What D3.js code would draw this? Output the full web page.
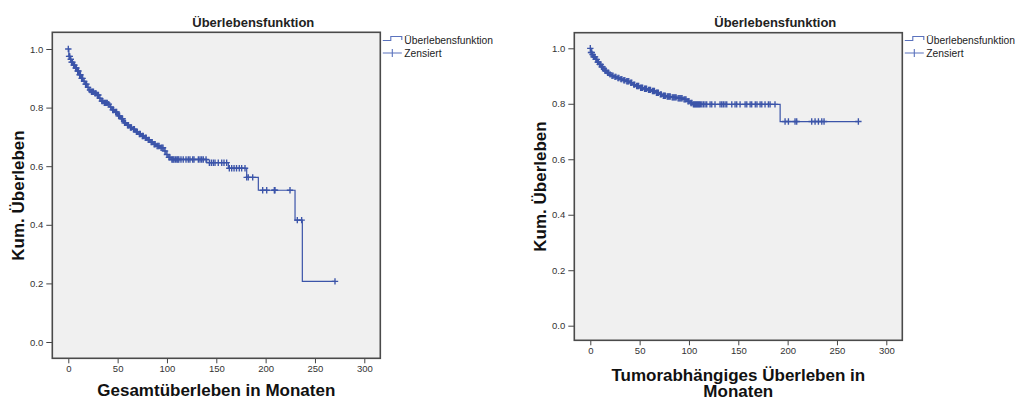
<!DOCTYPE html>
<html>
<head>
<meta charset="utf-8">
<script src="https://cdn.jsdelivr.net/npm/d3@7"></script>
<style>
  html, body { margin: 0; padding: 0; background: #ffffff; }
  svg { display: block; }
</style>
</head>
<body>
<svg id="chart" width="1016" height="399"></svg>
<script>
// ---------------- DATA ----------------
const chartTitle = "Überlebensfunktion";
const yAxisTitle = "Kum. Überleben";
const legendLabels = ["Überlebensfunktion", "Zensiert"];
const xTickValues = [0, 50, 100, 150, 200, 250, 300];
const yTickValues = [0.0, 0.2, 0.4, 0.6, 0.8, 1.0];

// Left panel: overall survival (Gesamtüberleben)
const osXTitle = ["Gesamtüberleben in Monaten"];
const osStepTimes = [0, 0.6, 2, 3, 5, 7, 9, 11, 13, 15, 17, 19, 21, 23, 26, 29, 31, 33, 36, 40,
  42, 44, 47, 50, 53, 56, 59, 62, 65, 68, 71, 74, 77, 80, 83, 86, 89, 93, 97, 99,
  101, 104, 140.3, 162.2, 180.8, 192.6, 229.8, 237.2];
const osStepSurv = [1.0, 0.975, 0.965, 0.955, 0.945, 0.935, 0.925, 0.912, 0.900, 0.890,
  0.880, 0.869, 0.860, 0.854, 0.849, 0.843, 0.832, 0.822, 0.816, 0.812,
  0.802, 0.792, 0.785, 0.772, 0.762, 0.748, 0.740, 0.732, 0.726, 0.717,
  0.710, 0.703, 0.697, 0.690, 0.682, 0.675, 0.669, 0.663, 0.652, 0.640,
  0.630, 0.623, 0.612, 0.593, 0.562, 0.518, 0.416, 0.207];
const osEndTime = 270.3;
const osCensorTimes = [0, 0.8, 1.5, 2.5, 3.3, 4.2, 5.5, 6.3, 7.5, 8.2, 9.5, 10.3, 11.5, 12.3, 13.5,
  14.5, 16, 17.5, 18.5, 20, 22, 23.5, 24.5, 25.5, 27, 28, 29.5, 30.5, 32, 34, 35, 36.5, 37.5,
  38.5, 39.5, 41, 43, 45, 46, 48, 49, 51, 52, 54, 55, 57, 58, 60, 61, 63, 64, 66, 67, 69, 70,
  72, 73, 75, 76, 78, 79, 81, 82, 84, 85, 87, 88, 90, 91, 92, 94, 95, 96, 98, 100, 102, 103,
  105, 106, 107, 108.5, 110, 111, 112, 114.2, 116.5, 119.3, 121.6, 123.3, 126.1, 127.4, 131.8,
  133.5, 135.2, 136.8, 139.6, 143, 145, 147, 148.7, 152, 155.5, 157.8, 160.5, 163.2, 165.6, 168,
  170.5, 173.3, 175.7, 179.1, 180.8, 182.4, 186.9, 197, 201.1, 208.8, 209.5, 224.7, 232.1,
  236.5, 270.3];

// Right panel: tumour-specific survival (Tumorabhängiges Überleben)
const dssXTitle = ["Tumorabhängiges Überleben in", "Monaten"];
const dssStepTimes = [0, 0.6, 2, 3, 5, 7, 9, 11, 13, 15, 17, 19, 21, 24, 27, 30, 33, 36, 40, 43,
  46, 50, 54, 58, 62, 66, 70, 73, 77, 82, 88, 94, 98, 101, 104, 192.4];
const dssStepSurv = [1.0, 0.985, 0.977, 0.969, 0.960, 0.950, 0.942, 0.933, 0.926, 0.919,
  0.912, 0.906, 0.901, 0.897, 0.893, 0.889, 0.885, 0.881, 0.876, 0.869,
  0.864, 0.858, 0.854, 0.850, 0.846, 0.840, 0.834, 0.829, 0.826, 0.823,
  0.820, 0.816, 0.809, 0.803, 0.798, 0.736];
const dssEndTime = 271.7;
const dssCensorTimes = [0, 0.7, 1.5, 2.3, 3.2, 4, 4.8, 5.6, 6.5, 7.5, 8.3, 9.5, 10.5, 11.5, 12.5,
  13.8, 15, 16, 17.5, 18.5, 20, 22, 23, 25, 26, 28, 29, 31, 32, 34, 35, 37, 38, 39, 41, 42, 44,
  45, 47, 48, 49, 51, 52, 53, 55, 56, 57, 59, 60, 61, 63, 64, 65, 67, 68, 69, 71, 72, 74, 75, 76,
  78, 79, 80, 81, 83, 84, 85, 86, 87, 89, 90, 91, 92, 93, 95, 96, 97, 99, 100, 102, 103, 104.5,
  105.5, 106.5, 107.5, 108.5, 109.5, 110.5, 111.5, 113, 114.6, 116.3, 118, 121.4, 123.1, 126.4,
  131.5, 133.2, 134.8, 136.6, 138.3, 143.4, 146.7, 148.4, 151.8, 156.9, 158.6, 162, 163.6, 167.2,
  168.9, 172.1, 173.8, 177.1, 180.5, 182.2, 187.2, 197.4, 200.8, 207.5, 209.2, 224.4, 227.8,
  231.2, 234.6, 236.9, 271.7];

// ---------------- STYLE / LAYOUT ----------------
const curveColor = "#3b54a9";
const frameColor = "#4a4a4a";
const plotBg = "#f0f0f0";
const textColor = "#222222";
const tickFont = "'Liberation Sans Narrow', 'Arial Narrow', 'Liberation Sans', Arial, sans-serif";
const mainFont = "'Liberation Sans', Arial, Helvetica, sans-serif";

const svg = d3.select("#chart");
svg.append("rect").attr("width", 1016).attr("height", 399).attr("fill", "#ffffff");

const panels = [
  { left: 52.3, right: 380.3, top: 32.3, bottom: 358.3, padTop: 16.7, padBottom: 16.3,
    times: osStepTimes, surv: osStepSurv, end: osEndTime, censor: osCensorTimes,
    xTitle: osXTitle, xTitleY: [396], yTitleCy: 195.5 },
  { left: 574.3, right: 902.3, top: 32.7, bottom: 340.3, padTop: 15.6, padBottom: 14.6,
    times: dssStepTimes, surv: dssStepSurv, end: dssEndTime, censor: dssCensorTimes,
    xTitle: dssXTitle, xTitleY: [380.5, 396.5], yTitleCy: 186.5 }
];

panels.forEach(p => {
  const g = svg.append("g");
  const x = d3.scaleLinear().domain([0, 300]).range([p.left + 16, p.right - 16]);
  const y = d3.scaleLinear().domain([0, 1]).range([p.bottom - p.padBottom, p.top + p.padTop]);

  // plot background
  g.append("rect")
    .attr("x", p.left).attr("y", p.top)
    .attr("width", p.right - p.left).attr("height", p.bottom - p.top)
    .attr("fill", plotBg);

  // Axes
  const yAxis = d3.axisLeft(y).tickValues(yTickValues).tickFormat(d3.format(".1f"))
    .tickSizeInner(6).tickSizeOuter(0).tickPadding(3);
  const ya = g.append("g").attr("transform", `translate(${p.left},0)`).call(yAxis);
  const xAxis = d3.axisBottom(x).tickValues(xTickValues).tickFormat(d3.format("d"))
    .tickSizeInner(5).tickSizeOuter(0).tickPadding(2);
  const xa = g.append("g").attr("transform", `translate(0,${p.bottom})`).call(xAxis);
  [ya, xa].forEach(a => {
    a.select(".domain").remove();
    a.selectAll(".tick line").attr("stroke", "#444").attr("stroke-width", 1);
    a.selectAll(".tick text").attr("fill", "#333").style("font-family", tickFont).style("font-size", "9.5px");
  });

  // frame
  g.append("rect")
    .attr("x", p.left).attr("y", p.top)
    .attr("width", p.right - p.left).attr("height", p.bottom - p.top)
    .attr("fill", "none").attr("stroke", frameColor).attr("stroke-width", 1.6);

  // KM step curve
  const pts = p.times.map((t, i) => [t, p.surv[i]]);
  pts.push([p.end, p.surv[p.surv.length - 1]]);
  const line = d3.line().x(d => x(d[0])).y(d => y(d[1])).curve(d3.curveStepAfter);
  g.append("path").datum(pts).attr("d", line)
    .attr("fill", "none").attr("stroke", curveColor).attr("stroke-width", 1.2);

  // censor marks
  const survAt = t => p.surv[Math.max(0, d3.bisectRight(p.times, t) - 1)];
  const cs = 3.2;
  g.append("g").selectAll("path").data(p.censor).join("path")
    .attr("d", t => {
      const cx = x(t), cy = y(survAt(t));
      return `M${cx - cs},${cy}H${cx + cs}M${cx},${cy - cs}V${cy + cs}`;
    })
    .attr("stroke", curveColor).attr("stroke-width", 1.35).attr("fill", "none");

  // title
  g.append("text").attr("x", p.left + 201).attr("y", 26.5)
    .attr("text-anchor", "middle").style("font-family", mainFont)
    .style("font-size", "13px").style("font-weight", "bold").attr("fill", textColor)
    .text(chartTitle);

  // y title
  g.append("text")
    .attr("transform", `translate(${p.left - 28},${p.yTitleCy}) rotate(-90)`)
    .attr("text-anchor", "middle").style("font-family", mainFont)
    .style("font-size", "17px").style("font-weight", "bold").attr("fill", "#111")
    .text(yAxisTitle);

  // x title
  p.xTitle.forEach((s, i) => {
    g.append("text").attr("x", (p.left + p.right) / 2).attr("y", p.xTitleY[i])
      .attr("text-anchor", "middle").style("font-family", mainFont)
      .style("font-size", "17px").style("font-weight", "bold").attr("fill", "#111")
      .text(s);
  });

  // legend
  const lx = p.right + 2.5;
  const lg = g.append("g");
  lg.append("path")
    .attr("d", `M${lx},40.5H${lx + 8}V36.5H${lx + 19}V40`)
    .attr("fill", "none").attr("stroke", "#5a72bd").attr("stroke-width", 1.1);
  lg.append("path")
    .attr("d", `M${lx},53H${lx + 19}M${lx + 9.5},49V57`)
    .attr("fill", "none").attr("stroke", "#5a72bd").attr("stroke-width", 1.1);
  legendLabels.forEach((s, i) => {
    lg.append("text").attr("x", lx + 21.5).attr("y", 44 + i * 12.5)
      .style("font-family", mainFont).style("font-size", "10.3px").attr("fill", "#222")
      .text(s);
  });
});
</script>
</body>
</html>
